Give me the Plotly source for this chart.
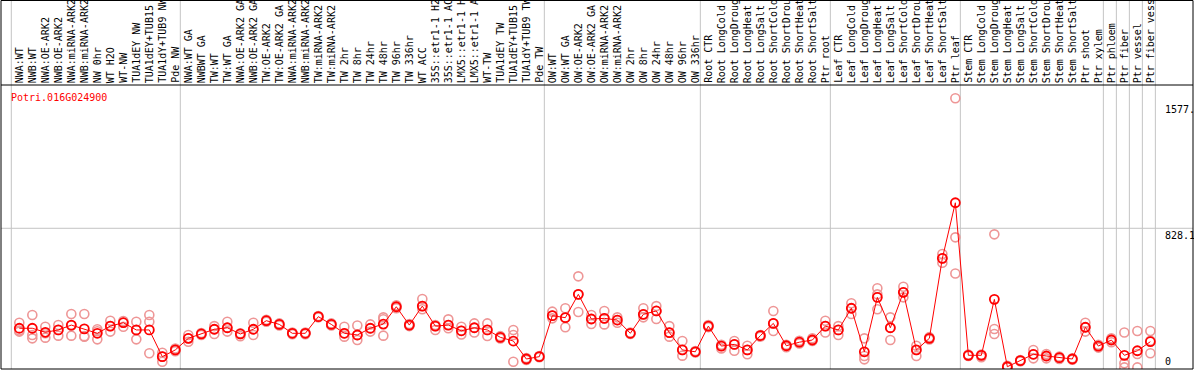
import plotly.graph_objects as go

labels = [
    "NWA:WT", "NWB:WT", "NWA:OE-ARK2", "NWB:OE-ARK2", "NWA:miRNA-ARK2", "NWB:miRNA-ARK2",
    "NW 0hr", "WT H2O", "WT-NW", "TUA1dEY NW", "TUA1dEY+TUB15", "TUA1dY+TUB9 NW", "Pde NW",
    "NWA:WT GA", "NWBWT GA", "TW:WT", "TW:WT GA", "NWA:OE-ARK2 GA", "NWB:OE-ARK2 GA",
    "TW:OE-ARK2", "TW:OE-ARK2 GA", "NWA:miRNA-ARK2", "NWB:miRNA-ARK2", "TW:miRNA-ARK2",
    "TW:miRNA-ARK2", "TW 2hr", "TW 8hr", "TW 24hr", "TW 48hr", "TW 96hr", "TW 336hr",
    "WT ACC", "35S::etr1-1 H2", "35S::etr1-1 AC", "LMX5::etr1-1 H", "LMX5::etr1-1 A",
    "WT-TW", "TUA1dEY TW", "TUA1dEY+TUB15", "TUA1dY+TUB9 TW", "Pde TW",
    "OW:WT", "OW:WT GA", "OW:OE-ARK2", "OW:OE-ARK2 GA", "OW:miRNA-ARK2", "OW:miRNA-ARK2",
    "OW 2hr", "OW 8hr", "OW 24hr", "OW 48hr", "OW 96hr", "OW 336hr",
    "Root CTR", "Root LongCold", "Root LongDroug", "Root LongHeat", "Root LongSalt",
    "Root ShortCold", "Root ShortDrou", "Root ShortHeat", "Root ShortSalt", "Ptr root",
    "Leaf CTR", "Leaf LongCold", "Leaf LongDroug", "Leaf LongHeat", "Leaf LongSalt",
    "Leaf ShortCold", "Leaf ShortDrou", "Leaf ShortHeat", "Leaf ShortSalt", "Ptr leaf",
    "Stem CTR", "Stem LongCold", "Stem LongDroug", "Stem LongHeat", "Stem LongSalt",
    "Stem ShortCold", "Stem ShortDrou", "Stem ShortHeat", "Stem ShortSalt", "Ptr shoot",
    "Ptr xylem", "Ptr phloem", "Ptr fiber", "Ptr vessel", "Ptr fiber vess",
]

means = [
    233, 233, 209, 223, 252, 229, 203, 246, 266, 223, 223, 64, 104,
    173, 199, 227, 236, 199, 227, 278, 256, 203, 203, 302, 256, 203, 193, 233, 258, 361, 252,
    365, 246, 252, 218, 236, 223, 179, 157, 50, 64,
    308, 296, 435, 288, 292, 282, 203, 316, 336, 207, 104, 93,
    246, 127, 137, 104, 189, 262, 129, 150, 163, 246,
    223, 352, 93, 417, 236, 447, 104, 173, 649, 980,
    72, 72, 405, 4, 40, 78, 68, 58, 50, 239,
    127, 163, 72, 99, 153,
]

reps = [
    [266, 220, 213], [312, 193, 173], [242, 203, 177], [252, 223, 189], [318, 249, 189],
    [318, 186, 183], [227, 215, 167], [278, 246, 213], [276, 266, 242], [272, 223, 167],
    [312, 272, 84], [87, 64, 34], [112, 104, 96],
    [193, 173, 153], [205, 199, 193], [246, 227, 199], [272, 236, 213], [203, 199, 186],
    [266, 227, 193], [284, 278, 272], [262, 256, 249], [208, 203, 198], [208, 203, 198],
    [306, 302, 298], [262, 256, 249], [242, 203, 183], [249, 193, 163], [256, 233, 213],
    [298, 287, 189], [370, 361, 352], [258, 252, 246],
    [407, 365, 346], [252, 246, 223], [286, 252, 233], [242, 218, 196], [262, 236, 208],
    [262, 223, 187], [186, 179, 172], [223, 193, 34], [56, 50, 44], [68, 64, 60],
    [332, 308, 292], [352, 296, 239], [542, 435, 330], [312, 288, 258], [336, 292, 256],
    [298, 282, 266], [207, 203, 199], [352, 316, 298], [365, 336, 288], [246, 207, 183],
    [157, 104, 70], [97, 93, 89],
    [252, 246, 240], [135, 127, 113], [157, 137, 99], [129, 104, 78], [193, 189, 183],
    [336, 262, 217], [135, 129, 120], [158, 150, 143], [173, 163, 157], [278, 246, 208],
    [246, 223, 193], [382, 352, 318], [173, 68, 48], [471, 435, 346], [298, 236, 163],
    [480, 447, 417], [129, 104, 68], [180, 173, 166], [675, 649, 623], [1602, 774, 559],
    [76, 72, 68], [76, 72, 60], [792, 229, 199], [10, 4, 0], [44, 40, 36],
    [104, 78, 54], [80, 68, 54], [64, 58, 50], [54, 50, 46], [266, 239, 213],
    [135, 127, 118], [173, 163, 150], [208, 24, 0], [217, 80, 0], [217, 158, 84],
]

group_starts = [0, 13, 41, 53, 63, 73, 84, 85, 86, 87, 88]
gene = "Potri.016G024900"
ytick_vals = [1577.4, 828.1, 0]
ytick_text = ["1577.", "828.1", "0"]

W, H = 1194, 370
ML, MR, MT, MB = 1, 1, 85, 1
PH = H - MT - MB
top_paper = 1 + (MT - 0.5) / PH
FONT = "DejaVu Sans Mono"

idx = list(range(len(labels)))
rx, ry = [], []
for i, r in zip(idx, reps):
    for v in r:
        rx.append(i)
        ry.append(v)

fig = go.Figure()
fig.add_trace(go.Scatter(
    x=rx, y=ry, mode="markers", hoverinfo="skip",
    marker=dict(symbol="circle-open", size=9, color="rgb(238,150,150)",
                line=dict(width=1.6, color="rgb(238,150,150)")),
))
fig.add_trace(go.Scatter(
    x=idx, y=means, mode="lines+markers",
    line=dict(color="#ff0000", width=1),
    marker=dict(symbol="circle-open", size=9, color="#ff0000",
                line=dict(width=1.8, color="#ff0000")),
))

shapes = []
for g in group_starts:
    shapes.append(dict(type="line", xref="x", yref="paper", x0=g - 0.615, x1=g - 0.615,
                       y0=0, y1=top_paper, line=dict(color="#c4c4c4", width=1), layer="below"))
shapes.append(dict(type="line", xref="paper", yref="y", x0=0, x1=1, y0=828.1, y1=828.1,
                   line=dict(color="#c4c4c4", width=1), layer="below"))
shapes.append(dict(type="rect", xref="paper", yref="paper", x0=0, x1=1, y0=0, y1=top_paper,
                   line=dict(color="black", width=1)))
shapes.append(dict(type="line", xref="paper", yref="paper", x0=0, x1=1, y0=1, y1=1,
                   line=dict(color="black", width=1)))

ann = []
for i, lab in enumerate(labels):
    ann.append(dict(x=i, y=1, xref="x", yref="paper", text=lab, showarrow=False,
                    textangle=-90, xanchor="center", yanchor="bottom", yshift=0, xshift=0,
                    font=dict(family=FONT, size=10, color="black")))
ann.append(dict(x=(9.3 - ML) / (W - ML - MR), y=(H - MB - 97) / PH, xref="paper", yref="paper",
                text=gene, showarrow=False, xanchor="left", yanchor="middle",
                font=dict(family=FONT, size=10, color="red")))
xl = (1163 - ML) / (W - ML - MR)
ann.append(dict(x=xl, y=ytick_vals[0], xref="paper", yref="y", text=ytick_text[0], showarrow=False,
                xanchor="left", yanchor="top", font=dict(family=FONT, size=10, color="black")))
ann.append(dict(x=xl, y=ytick_vals[1], xref="paper", yref="y", text=ytick_text[1], showarrow=False,
                xanchor="left", yanchor="top", font=dict(family=FONT, size=10, color="black")))
ann.append(dict(x=xl, y=ytick_vals[2], xref="paper", yref="y", text=ytick_text[2], showarrow=False,
                xanchor="left", yanchor="bottom", yshift=-2, font=dict(family=FONT, size=10, color="black")))

fig.update_layout(
    width=W, height=H, margin=dict(l=ML, r=MR, t=MT, b=MB, pad=0),
    paper_bgcolor="white", plot_bgcolor="white", showlegend=False,
    xaxis=dict(range=[-1.408, 90.28], visible=False, fixedrange=True),
    yaxis=dict(range=[-9.5, 1681], visible=False, fixedrange=True),
    shapes=shapes, annotations=ann,
)
fig.write_html("out.html", config={"displayModeBar": False},
               post_script="document.body.style.margin='0';document.body.style.overflow='hidden';")
